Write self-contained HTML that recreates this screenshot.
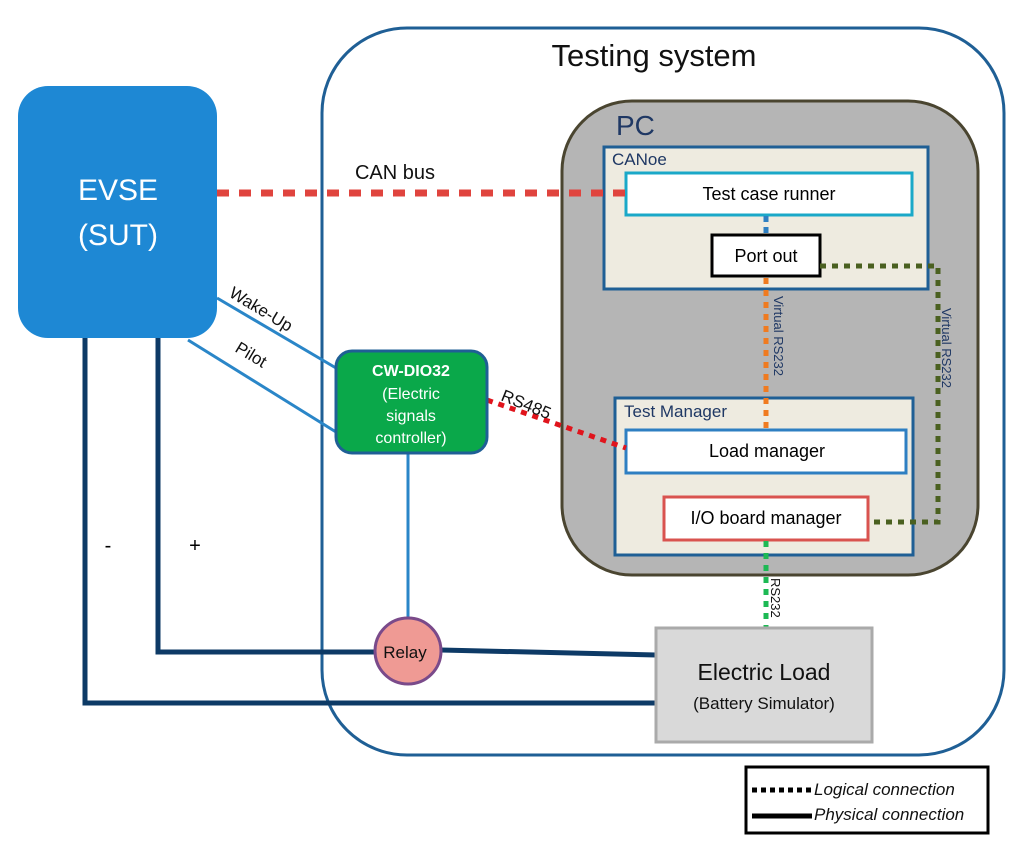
<!DOCTYPE html>
<html><head><meta charset="utf-8"><style>body{margin:0;background:#fff}svg{display:block}text{font-family:"Liberation Sans",sans-serif}</style></head><body>
<svg width="1024" height="852" viewBox="0 0 1024 852" xmlns="http://www.w3.org/2000/svg">
<rect x="322" y="28" width="682" height="727" rx="85" fill="#fff" stroke="#1f5f95" stroke-width="3"/>
<text x="654" y="66" font-size="31" text-anchor="middle" fill="#111">Testing system</text>
<rect x="562" y="101" width="416" height="474" rx="70" fill="#b5b5b5" stroke="#4a4530" stroke-width="3"/>
<text x="616" y="135" font-size="28" fill="#1f3864">PC</text>
<rect x="604" y="147" width="324" height="142" fill="#eeebe0" stroke="#1f5f95" stroke-width="3"/>
<text x="612" y="165" font-size="17" fill="#1f3864">CANoe</text>
<rect x="626" y="173" width="286" height="42" fill="#fff" stroke="#1aa8c8" stroke-width="3"/>
<text x="769" y="200" font-size="18" text-anchor="middle">Test case runner</text>
<line x1="766" y1="216" x2="766" y2="235" stroke="#2e7fc2" stroke-width="5" stroke-dasharray="6 5"/>
<rect x="712" y="235" width="108" height="41" fill="#fff" stroke="#000" stroke-width="3"/>
<text x="766" y="262" font-size="18" text-anchor="middle">Port out</text>
<rect x="615" y="398" width="298" height="157" fill="#eeebe0" stroke="#1f5f95" stroke-width="3"/>
<text x="624" y="417" font-size="17" fill="#1f3864">Test Manager</text>
<rect x="626" y="430" width="280" height="43" fill="#fff" stroke="#2e7fc2" stroke-width="3"/>
<text x="767" y="457" font-size="18" text-anchor="middle">Load manager</text>
<rect x="664" y="497" width="204" height="43" fill="#fff" stroke="#d9534f" stroke-width="3"/>
<text x="766" y="524" font-size="18" text-anchor="middle">I/O board manager</text>
<line x1="766" y1="278" x2="766" y2="430" stroke="#f07b20" stroke-width="5" stroke-dasharray="6 6"/>
<text transform="translate(774,296) rotate(90)" font-size="13" fill="#1f3864">Virtual RS232</text>
<polyline points="820,266 938,266 938,522 870,522" fill="none" stroke="#4a6020" stroke-width="5" stroke-dasharray="6 6"/>
<text transform="translate(942,308) rotate(90)" font-size="13" fill="#1f3864">Virtual RS232</text>
<line x1="766" y1="541" x2="766" y2="628" stroke="#1db954" stroke-width="5" stroke-dasharray="6 6"/>
<text transform="translate(771,578) rotate(90)" font-size="13" fill="#111">RS232</text>
<rect x="18" y="86" width="199" height="252" rx="30" fill="#1e88d4"/>
<text x="118" y="200" font-size="30" text-anchor="middle" fill="#fff">EVSE</text>
<text x="118" y="245" font-size="30" text-anchor="middle" fill="#fff">(SUT)</text>
<line x1="217" y1="193" x2="626" y2="193" stroke="#e0443e" stroke-width="7" stroke-dasharray="12 10"/>
<text x="395" y="179" font-size="20" text-anchor="middle" fill="#111">CAN bus</text>
<line x1="217" y1="298" x2="336" y2="368" stroke="#2a86c8" stroke-width="3"/>
<line x1="188" y1="340" x2="336" y2="432" stroke="#2a86c8" stroke-width="3"/>
<text transform="translate(228,296) rotate(31)" font-size="17" fill="#111">Wake-Up</text>
<text transform="translate(234,351) rotate(31)" font-size="17" fill="#111">Pilot</text>
<line x1="487" y1="400" x2="626" y2="448" stroke="#e0141c" stroke-width="5" stroke-dasharray="6 6"/>
<text transform="translate(500,400) rotate(22)" font-size="17" fill="#111">RS485</text>
<line x1="408" y1="453" x2="408" y2="618" stroke="#2a86c8" stroke-width="3"/>
<rect x="336" y="351" width="151" height="102" rx="16" fill="#0aa84a" stroke="#1f5f95" stroke-width="3"/>
<g font-size="16" text-anchor="middle" fill="#fff"><text x="411" y="376" font-weight="bold">CW-DIO32</text><text x="411" y="399">(Electric</text><text x="411" y="421">signals</text><text x="411" y="443">controller)</text></g>
<g stroke="#0d3a66" stroke-width="5" fill="none"><polyline points="85,338 85,703 656,703"/><polyline points="158,338 158,652 375,652"/><line x1="441" y1="650" x2="656" y2="655"/></g>
<text x="108" y="552" font-size="20" text-anchor="middle">-</text>
<text x="195" y="552" font-size="20" text-anchor="middle">+</text>
<circle cx="408" cy="651" r="33" fill="#ef9a94" stroke="#7a4a8a" stroke-width="3"/>
<text x="405" y="658" font-size="17" text-anchor="middle" fill="#111">Relay</text>
<rect x="656" y="628" width="216" height="114" fill="#d9d9d9" stroke="#aaa" stroke-width="3"/>
<text x="764" y="680" font-size="23" text-anchor="middle" fill="#111">Electric Load</text>
<text x="764" y="709" font-size="17" text-anchor="middle" fill="#111">(Battery Simulator)</text>
<rect x="746" y="767" width="242" height="66" fill="#fff" stroke="#000" stroke-width="3"/>
<line x1="752" y1="790" x2="812" y2="790" stroke="#000" stroke-width="5" stroke-dasharray="5 4"/>
<line x1="752" y1="816" x2="812" y2="816" stroke="#000" stroke-width="5"/>
<text x="814" y="795" font-size="17" font-style="italic" fill="#111">Logical connection</text>
<text x="814" y="820" font-size="17" font-style="italic" fill="#111">Physical connection</text>
</svg>
</body></html>
